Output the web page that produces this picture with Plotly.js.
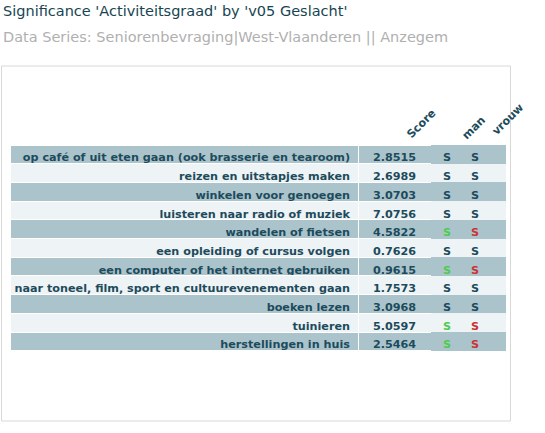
<!DOCTYPE html>
<html><head><meta charset="utf-8">
<script src="https://cdn.plot.ly/plotly-3.0.1.min.js"></script>
<style>html,body{margin:0;padding:0;background:#fff;}#chart{width:545px;height:433px;}</style>
</head><body><div id="chart"></div>
<script>
const titleText = "Significance 'Activiteitsgraad' by 'v05 Geslacht'";
const subtitleText = "Data Series: Seniorenbevraging|West-Vlaanderen || Anzegem";
const columnHeaders = ["Score", "man", "vrouw"];
const activities = [
  "op café of uit eten gaan (ook brasserie en tearoom)",
  "reizen en uitstapjes maken",
  "winkelen voor genoegen",
  "luisteren naar radio of muziek",
  "wandelen of fietsen",
  "een opleiding of cursus volgen",
  "een computer of het internet gebruiken",
  "naar toneel, film, sport en cultuurevenementen gaan",
  "boeken lezen",
  "tuinieren",
  "herstellingen in huis"
];
const scores = [2.8515, 2.6989, 3.0703, 7.0756, 4.5822, 0.7626, 0.9615, 1.7573, 3.0968, 5.0597, 2.5464];
// 1 = significantly higher (green), -1 = significantly lower (red), 0 = not significant
const sigMan   = [0, 0, 0, 0, 1, 0, 1, 0, 0, 1, 1];
const sigVrouw = [0, 0, 0, 0, -1, 0, -1, 0, 0, -1, -1];

const W = 545, H = 433;
const textCol = "#1d4b5c";
const sigColor = s => s > 0 ? "#4ccc4c" : (s < 0 ? "#cc3333" : textCol);
const rowFill = activities.map((_, i) => i % 2 === 0 ? "#abc4cc" : "#eef3f5");
const plainCol = activities.map(() => textCol);
const noWrap = s => s.replace(/ /g, "\u00a0");

const px = x => x / W, py = y => 1 - y / H;

const trace = {
  type: "table",
  domain: {x: [px(10), px(506)], y: [py(351), py(144)]},
  columnwidth: [348, 73, 32, 43],
  header: {values: ["", "", "", ""], height: 1, fill: {color: "#ffffff"}, line: {color: "#ffffff", width: 0}},
  cells: {
    values: [activities.map(noWrap), scores.map(s => s.toFixed(4)), sigMan.map(() => "S"), sigVrouw.map(() => "S")],
    align: ["right", "center", "center", "left"],
    height: 18.7,
    fill: {color: [rowFill, rowFill, rowFill, rowFill]},
    line: {color: "#ffffff", width: [1, 1, 0, 0]},
    font: {family: "DejaVu Sans", size: 11.2, weight: "bold",
           color: [plainCol, plainCol, sigMan.map(sigColor), sigVrouw.map(sigColor)]}
  }
};

const hdrPos = [[422, 124], [473, 128], [508, 120]];
const annotations = [
  {text: titleText, xref: "paper", yref: "paper", x: px(1), y: py(11), xanchor: "left", yanchor: "middle",
   showarrow: false, font: {family: "DejaVu Sans", size: 14.5, color: "#174552"}},
  {text: subtitleText, xref: "paper", yref: "paper", x: px(1), y: py(37), xanchor: "left", yanchor: "middle",
   showarrow: false, font: {family: "DejaVu Sans", size: 14.5, color: "#b0b0b0"}}
].concat(columnHeaders.map((h, i) => ({
  text: h, xref: "paper", yref: "paper", x: px(hdrPos[i][0]), y: py(hdrPos[i][1]),
  xanchor: "center", yanchor: "middle", textangle: -45, showarrow: false,
  font: {family: "DejaVu Sans", size: 11.2, color: textCol, weight: "bold"}
})));

const layout = {
  width: W, height: H, margin: {l: 0, r: 0, t: 0, b: 0},
  paper_bgcolor: "#ffffff", plot_bgcolor: "#ffffff",
  showlegend: false,
  shapes: [{type: "rect", xref: "paper", yref: "paper", x0: px(1.5), x1: px(510.5), y0: py(421), y1: py(66),
            line: {color: "#d8d8d8", width: 1}}],
  annotations: annotations
};
Plotly.newPlot("chart", [trace], layout, {displayModeBar: false, staticPlot: true});
</script></body></html>
